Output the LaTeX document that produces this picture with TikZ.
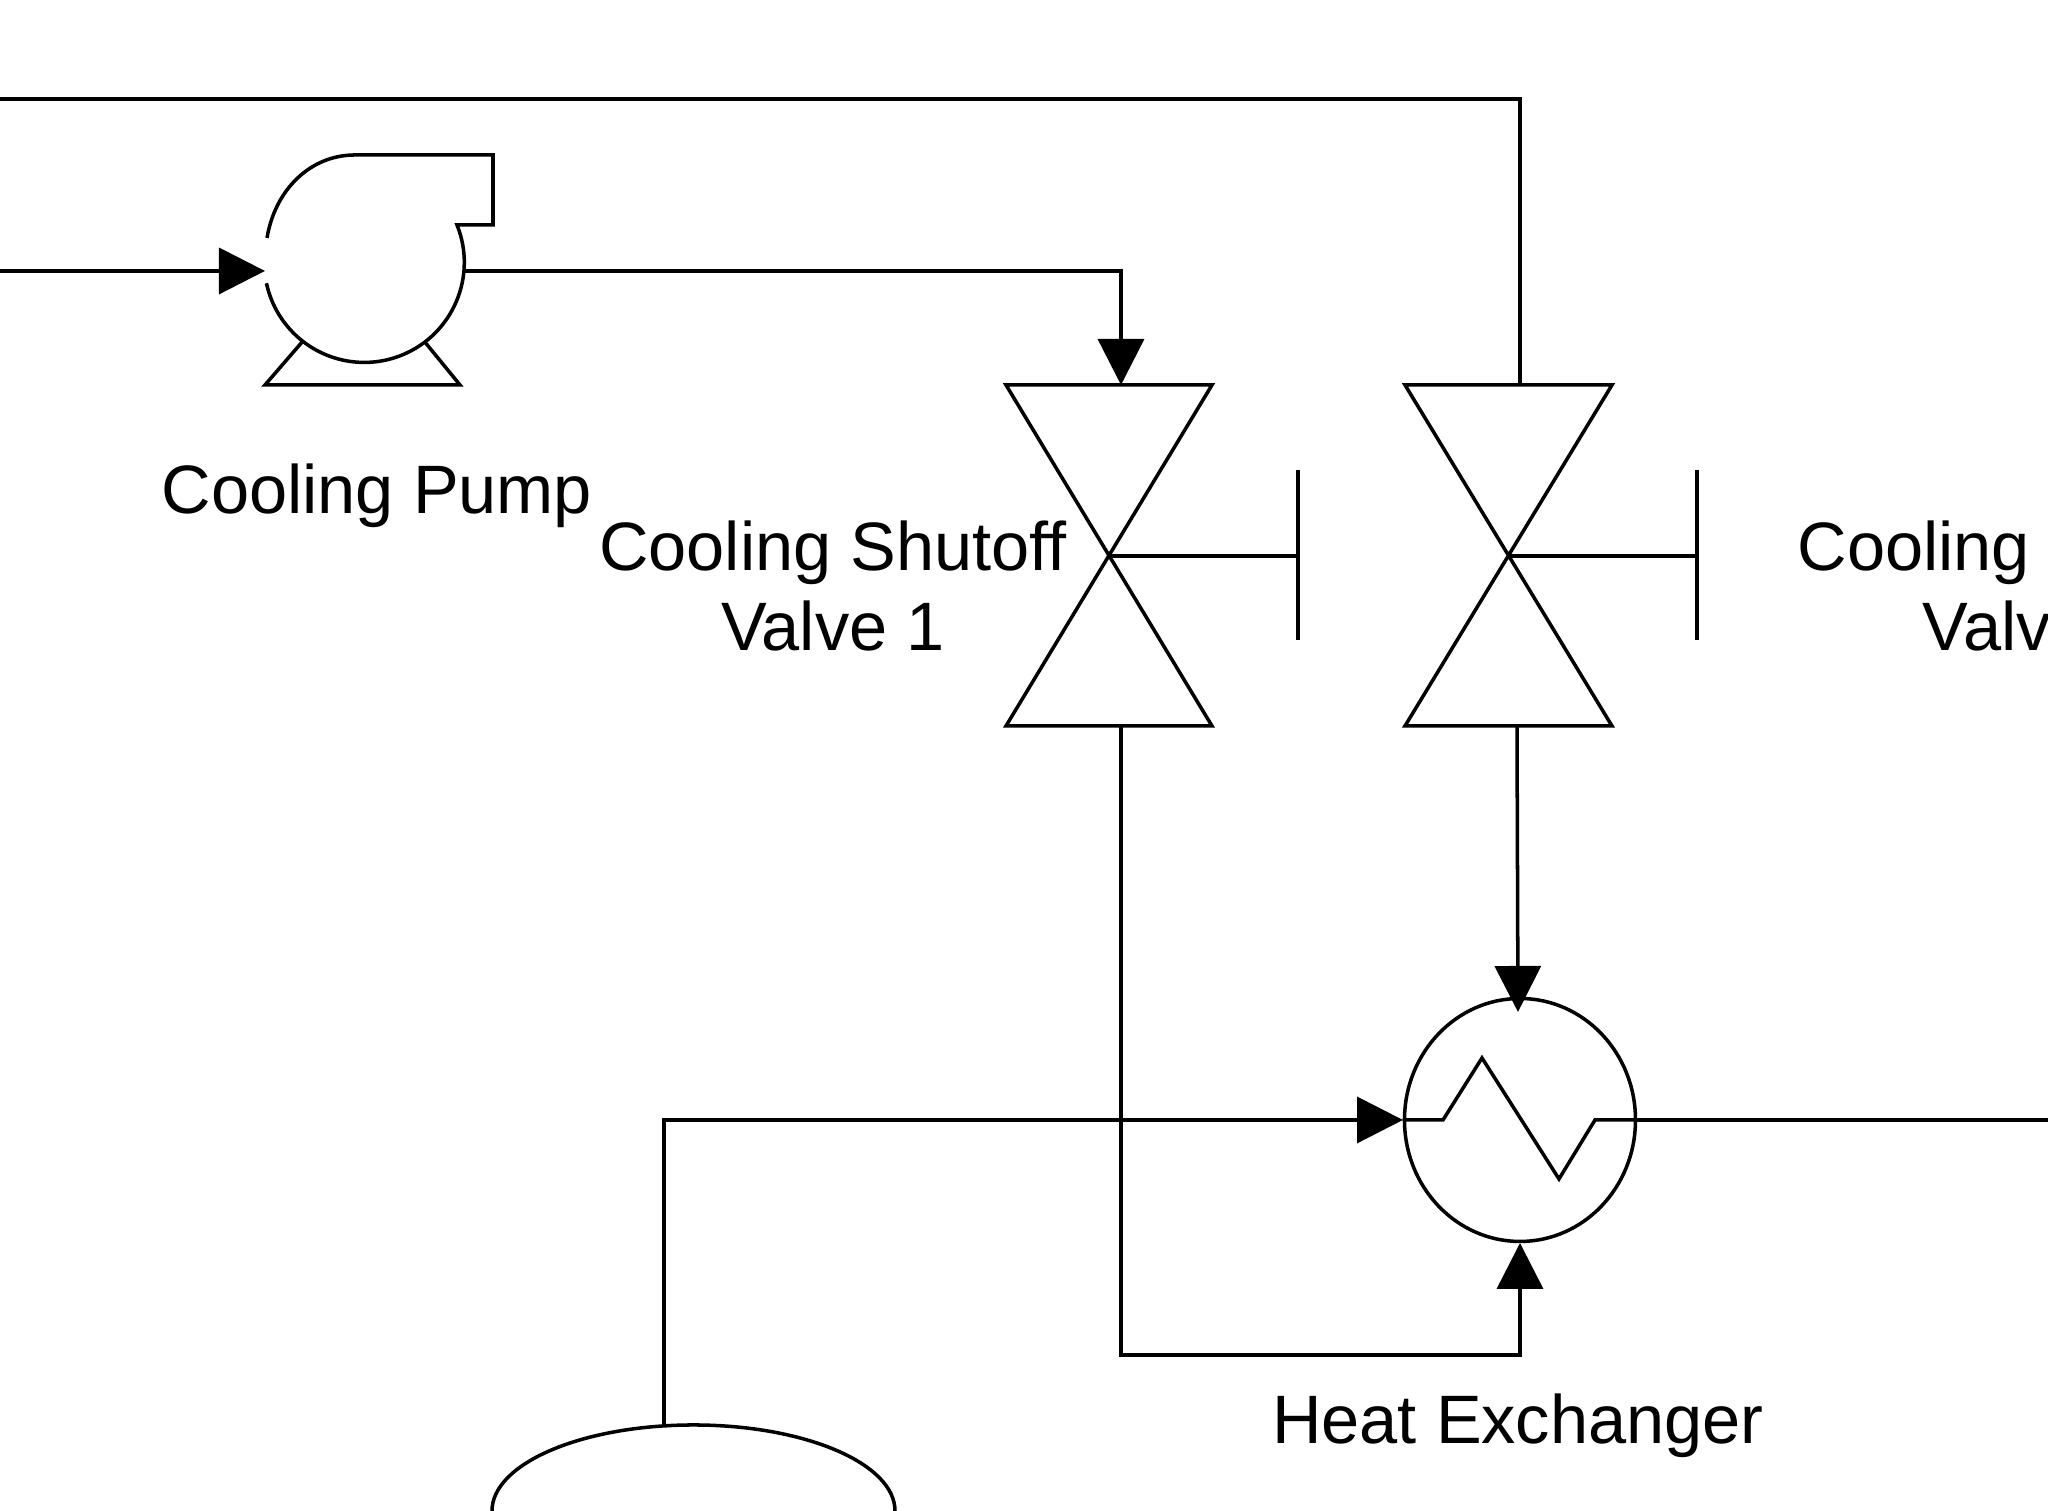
\documentclass[tikz,border=0pt]{standalone}
\usepackage{fontspec}
\setmainfont{Liberation Sans}
\usetikzlibrary{arrows.meta,positioning,shapes.geometric}

\tikzset{
  line/.style={line width=1pt,line join=miter},
  flow/.style={line,-{Triangle[length=0.46cm,width=0.46cm]}},
  caption/.style={inner sep=0pt,align=center,font=\fontsize{19.5}{23}\selectfont},
}

\begin{document}
\begin{tikzpicture}[scale=1]
\useasboundingbox (0,0) rectangle (20.48,15.11);
\clip (0,0) rectangle (20.48,15.11);

% pump casing and feet
\draw[line]
(2.67,12.73) .. controls (2.75,13.21) and (3.10,13.56) .. (3.55,13.56) --
(4.93,13.56) --
(4.93,12.86) --
(4.57,12.86) arc[start angle=22,end angle=-168,radius=1.00];
\draw[line]
(3.03,11.70) --
(2.65,11.26) --
(4.60,11.26) --
(4.24,11.70);
\coordinate (pumpIn) at (2.65,12.40);
\coordinate (pumpOut) at (4.63,12.40);

% first valve
\draw[line]
(10.06,11.26) coordinate --
(12.12,11.26) coordinate --
(10.06,7.85) coordinate --
(12.12,7.85) coordinate --
cycle;
\draw[line] (11.09,9.55) -- (12.98,9.55);
\draw[line] (12.98,10.41) -- (12.98,8.71);
\coordinate (valveAIn) at (11.21,11.26);
\coordinate (valveAOut) at (11.21,7.85);

% second valve
\draw[line]
(14.05,11.26) coordinate --
(16.12,11.26) coordinate --
(14.05,7.85) coordinate --
(16.12,7.85) coordinate --
cycle;
\draw[line] (15.09,9.55) -- (16.97,9.55);
\draw[line] (16.97,10.41) -- (16.97,8.71);
\coordinate (valveBTop) at (15.20,11.26);
\coordinate (valveBOut) at (15.17,7.85);

% heat exchanger
\node[line,draw,ellipse,inner sep=0pt,minimum width=2.31cm,minimum height=2.43cm] (exchanger) at (15.20,3.91) {};
\draw[line]
(exchanger.west) --
(14.43,3.91) --
(14.82,4.53) --
(15.59,3.32) --
(15.95,3.91) --
(exchanger.east);
\coordinate (exchangerIn) at (14.03,3.91);
\coordinate (exchangerTop) at (15.18,4.99);
\coordinate (exchangerBottom) at (15.20,2.68);

% vessel top
\draw[line] (4.92,0) arc[start angle=180,end angle=0,x radius=2.015cm,y radius=0.86cm] coordinate (vesselRight);
\coordinate (vesselTop) at (6.64,0.86);

% free pipe ends
\coordinate (returnEnd) at (0,14.12);
\coordinate (feedEnd) at (0,12.40);
\coordinate (outEnd) at (20.48,3.91);

% pipes
\draw[flow] (feedEnd) -- (pumpIn);
\draw[flow] (pumpOut) -| (valveAIn);
\draw[line] (valveBTop) |- (returnEnd);
\draw[flow] (valveBOut) -- (exchangerTop);
\draw[flow] (valveAOut) |- (15.20,1.56) -- (exchangerBottom);
\draw[flow] (vesselTop) |- (exchangerIn);
\draw[line] (exchanger.east) -- (outEnd);

\node[caption] (pumpLabel) at (3.77,10.15) {Cooling Pump};
\node[caption] (valveALabel) at (8.33,9.25) {Cooling Shutoff\\Valve 1};
\node[caption,anchor=west] (valveBLabel) at (17.97,9.58) {Cooling};
\node[caption,anchor=west] (valveBLabelNext) at (19.22,8.85) {Valv};
\node[caption] (exchangerLabel) at (15.18,0.85) {Heat Exchanger};

\end{tikzpicture}
\end{document}
